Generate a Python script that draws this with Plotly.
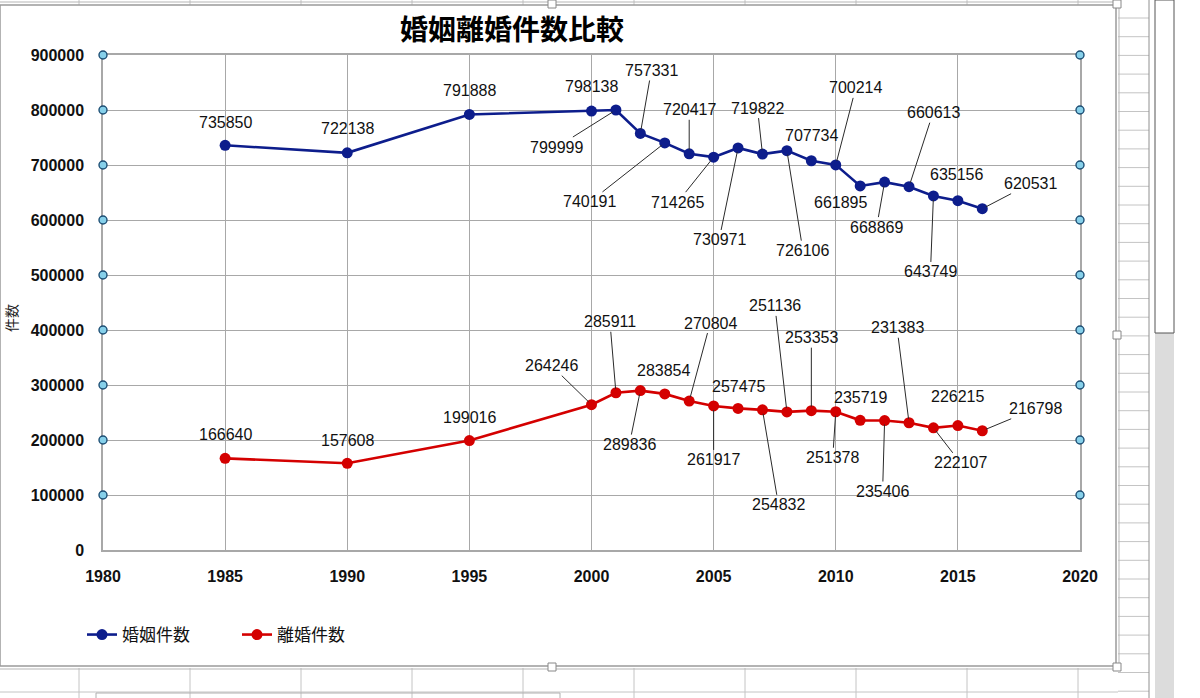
import plotly.graph_objects as go

# ---------------- data ----------------
years = [1985, 1990, 1995, 2000, 2001, 2002, 2003, 2004, 2005, 2006,
         2007, 2008, 2009, 2010, 2011, 2012, 2013, 2014, 2015, 2016]
marriages = [735850, 722138, 791888, 798138, 799999, 757331, 740191, 720417, 714265, 730971,
             719822, 726106, 707734, 700214, 661895, 668869, 660613, 643749, 635156, 620531]
divorces = [166640, 157608, 199016, 264246, 285911, 289836, 283854, 270804, 261917, 257475,
            254832, 251136, 253353, 251378, 235719, 235406, 231383, 222107, 226215, 216798]
series_names = ["婚姻件数", "離婚件数"]
title_text = "婚姻離婚件数比較"
y_title = "件数"
y_ticks = [0, 100000, 200000, 300000, 400000, 500000, 600000, 700000, 800000, 900000]
x_ticks = [1980, 1985, 1990, 1995, 2000, 2005, 2010, 2015, 2020]

# ---------------- style ----------------
W, H = 1200, 698
PL, PR, PT, PB = 103, 1080, 55, 550  # plot area in pixels
NUM_FONT = "Liberation Sans, Arial, Noto Sans CJK JP, sans-serif"
CJK_FONT = "Noto Sans CJK JP, Liberation Sans, sans-serif"
BLUE = "#0d1d8c"
RED = "#d40000"
GRID = "#a8a8a8"

# label offsets (pixels, from point to label centre)
m_off = [(0, -23), (0, -24), (0, -24), (0, -25), (-59, 37), (11, -63), (-75, 59), (0, -44),
         (-36, 45), (-19, 92), (-5, -46), (16, 100), (0, -25), (20, -77), (-20, 17), (-8, 45),
         (24, -74), (-3, 76), (-1, -26), (48, -25)]
d_off = [(0, -24), (0, -23), (0, -23), (-40, -39), (-6, -71), (-11, 54), (-1, -23), (21, -78),
         (0, 54), (0, -22), (16, 95), (-12, -106), (0, -73), (-3, 46), (0, -23), (-2, 71),
         (-12, -95), (27, 35), (0, -29), (53, -22)]


def px(xp):
    return (xp - PL) / (PR - PL)


def py(yp):
    return (PB - yp) / (PB - PT)


fig = go.Figure()
for name, vals, col in [(series_names[0], marriages, BLUE), (series_names[1], divorces, RED)]:
    fig.add_trace(go.Scatter(
        x=years, y=vals, name=name, mode="lines+markers",
        line=dict(color=col, width=2.6),
        marker=dict(color=col, size=11),
        cliponaxis=False,
    ))

annotations = []
for vals, offs in [(marriages, m_off), (divorces, d_off)]:
    for yr, v, (ox, oy) in zip(years, vals, offs):
        leader = abs(ox) > 30 or abs(oy) > 30
        if leader:
            annotations.append(dict(
                x=yr, y=v, xref="x", yref="y", text=str(v), showarrow=True,
                arrowhead=0, arrowwidth=1, arrowcolor="#2a2a2a", standoff=4,
                ax=ox, ay=oy, font=dict(family=NUM_FONT, size=16, color="#111111"),
            ))
        else:
            annotations.append(dict(
                x=yr, y=v, xref="x", yref="y", text=str(v), showarrow=False,
                xshift=ox, yshift=-oy, font=dict(family=NUM_FONT, size=16, color="#111111"),
            ))

# y-axis title
annotations.append(dict(
    x=px(11), y=py(318), xref="paper", yref="paper", text=y_title, showarrow=False,
    xanchor="center", yanchor="middle",
    textangle=-90, font=dict(family=CJK_FONT, size=14, color="#222222"),
))

shapes = []
# spreadsheet background lines (outside chart area)
cell_line = dict(color="#c4c4c4", width=1)
col_x = [79 + 111 * k for k in range(10)]
for cx in col_x:
    shapes.append(dict(type="line", xref="paper", yref="paper", x0=px(cx), x1=px(cx),
                       y0=py(0), y1=py(5), line=cell_line, layer="below"))
    shapes.append(dict(type="line", xref="paper", yref="paper", x0=px(cx), x1=px(cx),
                       y0=py(668), y1=py(698), line=cell_line, layer="below"))
shapes.append(dict(type="line", xref="paper", yref="paper", x0=px(0), x1=px(1118),
                   y0=py(692), y1=py(692), line=cell_line, layer="below"))
shapes.append(dict(type="rect", xref="paper", yref="paper", x0=px(96), x1=px(560),
                   y0=py(693), y1=py(700), line=dict(color="#b0b0b0", width=1), layer="below"))
k = 0
while 18 + 18.7 * k < H:
    yy = 18 + 18.7 * k
    shapes.append(dict(type="line", xref="paper", yref="paper", x0=px(1118), x1=px(1149),
                       y0=py(yy), y1=py(yy), line=cell_line, layer="below"))
    k += 1
shapes.append(dict(type="line", xref="paper", yref="paper", x0=px(1149), x1=px(1149),
                   y0=py(0), y1=py(698), line=dict(color="#909090", width=1), layer="below"))
# scroll bar
shapes.append(dict(type="rect", xref="paper", yref="paper", x0=px(1155), x1=px(1174),
                   y0=py(333), y1=py(698), fillcolor="#dcdcdc", line=dict(width=0), layer="below"))
shapes.append(dict(type="rect", xref="paper", yref="paper", x0=px(1155), x1=px(1174),
                   y0=py(0), y1=py(333), fillcolor="white", line=dict(color="#555555", width=1),
                   layer="below"))
# chart area frame
shapes.append(dict(type="rect", xref="paper", yref="paper", x0=px(0), x1=px(1116),
                   y0=py(5), y1=py(666), fillcolor="white",
                   line=dict(color="#9a9a9a", width=1.5), layer="below"))
shapes.append(dict(type="rect", xref="paper", yref="paper", x0=px(-2), x1=px(1119),
                   y0=py(2), y1=py(669), line=dict(color="#b5b5b5", width=1), layer="below"))
# selection handles
for hx, hy in [(552, 4), (552, 667), (1117, 335), (1117, 4), (1117, 667)]:
    shapes.append(dict(type="rect", xref="paper", yref="paper",
                       x0=px(hx - 4), x1=px(hx + 4), y0=py(hy - 4), y1=py(hy + 4),
                       fillcolor="white", line=dict(color="#888888", width=1)))
# axis selection circles (on the value axis ends, at each tick except 0)
ymax = y_ticks[-1]
for t in y_ticks[1:]:
    for xa in (0, 1):
        shapes.append(dict(type="circle", xref="paper", yref="paper", xsizemode="pixel",
                           ysizemode="pixel", xanchor=xa, yanchor=t / ymax,
                           x0=-4, x1=4, y0=-4, y1=4,
                           fillcolor="#86d0ea", line=dict(color="#1d4e74", width=1.4)))

fig.update_layout(
    width=W, height=H, autosize=False,
    margin=dict(l=PL, r=W - PR, t=PT, b=H - PB),
    paper_bgcolor="white", plot_bgcolor="white",
    title=dict(text=title_text, x=512 / W, xref="container", xanchor="center",
               y=1 - 30 / H, yref="container", yanchor="middle",
               font=dict(family=CJK_FONT, size=28, color="#000000", weight="bold")),
    xaxis=dict(range=[x_ticks[0], x_ticks[-1]], tickvals=x_ticks, showgrid=True,
               gridcolor=GRID, gridwidth=1, showline=True, linecolor=GRID, linewidth=1.5,
               mirror=True, zeroline=False, ticks="", ticklabelstandoff=11,
               tickfont=dict(family=NUM_FONT, size=16, color="#111111", weight="bold")),
    yaxis=dict(range=[y_ticks[0], y_ticks[-1]], tickvals=y_ticks, tickformat="d",
               showgrid=True, gridcolor=GRID, gridwidth=1, showline=True, linecolor=GRID,
               linewidth=1.5, mirror=True, zeroline=False, ticks="", ticklabelstandoff=14,
               tickfont=dict(family=NUM_FONT, size=16, color="#111111", weight="bold")),
    showlegend=True,
    legend=dict(orientation="h", x=px(82), y=py(635), xanchor="left", yanchor="middle",
                bgcolor="rgba(0,0,0,0)", font=dict(family=CJK_FONT, size=17, color="#111111"),
                itemwidth=30, entrywidth=110, entrywidthmode="pixels"),
    annotations=annotations,
    shapes=shapes,
)

fig.write_html("out.html")
